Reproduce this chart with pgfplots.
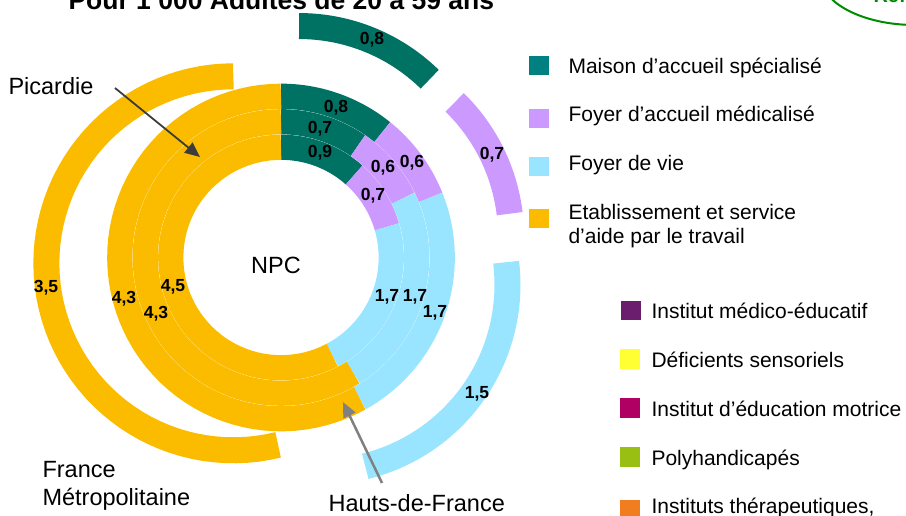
\documentclass[border=0pt]{standalone}
\usepackage{pgfplots}
\pgfplotsset{compat=1.18}
\usepackage{fontspec}
\setmainfont{Liberation Sans}
\usetikzlibrary{arrows.meta}

\definecolor{cMAS}{RGB}{0,114,99}
\definecolor{cMASleg}{RGB}{0,128,128}
\definecolor{cFAM}{RGB}{204,153,255}
\definecolor{cFV}{RGB}{153,229,255}
\definecolor{cESAT}{RGB}{251,188,0}
\definecolor{cIME}{RGB}{107,30,110}
\definecolor{cDS}{RGB}{255,255,51}
\definecolor{cIEM}{RGB}{176,0,100}
\definecolor{cPOLY}{RGB}{153,191,19}
\definecolor{cITEP}{RGB}{240,125,30}
\definecolor{cGreen}{RGB}{0,140,0}
\definecolor{cArrowA}{RGB}{60,60,60}
\definecolor{cArrowB}{RGB}{128,128,128}

\newcommand{\vlabfont}{\bfseries\fontsize{17.5}{20}\selectfont}
\newcommand{\legfont}{\fontsize{21}{25}\selectfont}
\newcommand{\annfont}{\fontsize{23.5}{28}\selectfont}

% one ring segment: #1 colour, #2 mid radius, #3 start angle, #4 end angle (clockwise from top),
% #5 explosion distance, #6 ring thickness
\newcommand{\ringseg}[6]{\addplot[draw=#1, line width=#6pt, domain=0:1, samples=61, forget plot]
 ({#2*cos(90-(#3+(#4-#3)*x)) + #5*cos(90-(#3+#4)/2)},
  {#2*sin(90-(#3+(#4-#3)*x)) + #5*sin(90-(#3+#4)/2)});}

% one ring: #1 mid radius, #2 thickness, #3 explosion, #4..#7 values (MAS, FAM, Foyer de vie, ESAT)
\newcommand{\donutring}[7]{%
 \pgfmathsetmacro\ringtot{#4+#5+#6+#7}%
 \pgfmathsetmacro\ringA{360*#4/\ringtot}%
 \pgfmathsetmacro\ringB{\ringA+360*#5/\ringtot}%
 \pgfmathsetmacro\ringC{\ringB+360*#6/\ringtot}%
 \edef\ringcmds{%
  \noexpand\ringseg{cMAS}{#1}{0}{\ringA}{#3}{#2}%
  \noexpand\ringseg{cFAM}{#1}{\ringA}{\ringB}{#3}{#2}%
  \noexpand\ringseg{cFV}{#1}{\ringB}{\ringC}{#3}{#2}%
  \noexpand\ringseg{cESAT}{#1}{\ringC}{360}{#3}{#2}%
 }\ringcmds}

\newcommand{\vlab}[3]{\node[font=\vlabfont] at (axis cs:#1,#2) {#3};}

\begin{document}
\begin{tikzpicture}
\path[use as bounding box] (0,0) rectangle (906pt,515pt);
\begin{axis}[
  x=1pt, y=1pt,
  xmin=-281, xmax=625, ymin=-257.5, ymax=257.5,
  hide axis, clip=false,
  at={(0pt,0pt)}, anchor=south west,
]
% rings: NPC (inner), then the two regional rings, then France Métropolitaine (exploded)
\donutring{110.25}{25.2}{0}{0.9}{0.7}{1.7}{4.5}
\donutring{135.75}{25.2}{0}{0.7}{0.6}{1.7}{4.3}
\donutring{161.25}{25.2}{0}{0.8}{0.6}{1.7}{4.3}
\donutring{187}{26}{48}{0.8}{0.7}{1.5}{3.5}

% value labels
\vlab{91}{217.5}{0,8}
\vlab{55}{149.5}{0,8}
\vlab{39}{128.5}{0,7}
\vlab{39}{104.5}{0,9}
\vlab{102}{89.5}{0,6}
\vlab{131}{94.5}{0,6}
\vlab{92}{61.5}{0,7}
\vlab{211}{102.5}{0,7}
\vlab{106}{-39.5}{1,7}
\vlab{134}{-39.5}{1,7}
\vlab{154}{-55.5}{1,7}
\vlab{196}{-136.5}{1,5}
\vlab{-235}{-30.5}{3,5}
\vlab{-157}{-41.5}{4,3}
\vlab{-108}{-29.5}{4,5}
\vlab{-125}{-56.5}{4,3}

% title (cut at top) and frame at top right
\node[anchor=base west, font=\bfseries\fontsize{26.5}{30}\selectfont] at (axis cs:-216,247.5) {Pour 1 000 Adultes de 20 à 59 ans};
\draw[cGreen, line width=2pt] (axis cs:634,282.5) ellipse [x radius=95pt, y radius=50pt];
\node[anchor=base west, font=\bfseries\fontsize{20}{24}\selectfont, text=cGreen] at (axis cs:589,254.5) {Réf.};

% annotations
\node[anchor=base west, font=\annfont] at (axis cs:-276,163.2) {Picardie};
\node[anchor=base, font=\annfont] at (axis cs:-5,-15.9) {NPC};
\node[anchor=base west, font=\annfont] at (axis cs:-242,-220.2) {France};
\node[anchor=base west, font=\annfont] at (axis cs:-242,-247.5) {Métropolitaine};
\node[anchor=base west, font=\annfont] at (axis cs:44,-254) {Hauts-de-France};
\draw[cArrowA, line width=1.8pt, -{Triangle[length=15pt,width=13pt]}] (axis cs:-166,169.5) -- (axis cs:-81,100.5);
\draw[cArrowB, line width=2.5pt, -{Triangle[length=15pt,width=13pt]}] (axis cs:101,-225.5) -- (axis cs:62,-144.5);

% legend
\node[fill=cMASleg, minimum size=19.5pt, inner sep=0pt] at (axis cs:258,192) {};
\node[fill=cFAM, minimum size=19.5pt, inner sep=0pt] at (axis cs:258,139) {};
\node[fill=cFV, minimum size=19.5pt, inner sep=0pt] at (axis cs:258,91) {};
\node[fill=cESAT, minimum size=19.5pt, inner sep=0pt] at (axis cs:258,39) {};
\node[anchor=base west, font=\legfont] at (axis cs:284,184) {Maison d’accueil spécialisé};
\node[anchor=base west, font=\legfont] at (axis cs:284,135.5) {Foyer d’accueil médicalisé};
\node[anchor=base west, font=\legfont] at (axis cs:284,86.8) {Foyer de vie};
\node[anchor=base west, font=\legfont] at (axis cs:284,37.5) {Etablissement et service};
\node[anchor=base west, font=\legfont] at (axis cs:284,13.5) {d’aide par le travail};

\node[fill=cIME, minimum size=19.5pt, inner sep=0pt] at (axis cs:350,-53) {};
\node[fill=cDS, minimum size=19.5pt, inner sep=0pt] at (axis cs:349,-101.5) {};
\node[fill=cIEM, minimum size=19.5pt, inner sep=0pt] at (axis cs:349,-150.5) {};
\node[fill=cPOLY, minimum size=19.5pt, inner sep=0pt] at (axis cs:349,-199.5) {};
\node[fill=cITEP, minimum size=19.5pt, inner sep=0pt] at (axis cs:349,-252.5) {};
\node[anchor=base west, font=\legfont] at (axis cs:367,-60.8) {Institut médico-éducatif};
\node[anchor=base west, font=\legfont] at (axis cs:367,-109.8) {Déficients sensoriels};
\node[anchor=base west, font=\legfont] at (axis cs:367,-159.2) {Institut d’éducation motrice};
\node[anchor=base west, font=\legfont] at (axis cs:367,-207.5) {Polyhandicapés};
\node[anchor=base west, font=\legfont] at (axis cs:367,-255.8) {Instituts thérapeutiques,};
\end{axis}
\end{tikzpicture}
\end{document}
